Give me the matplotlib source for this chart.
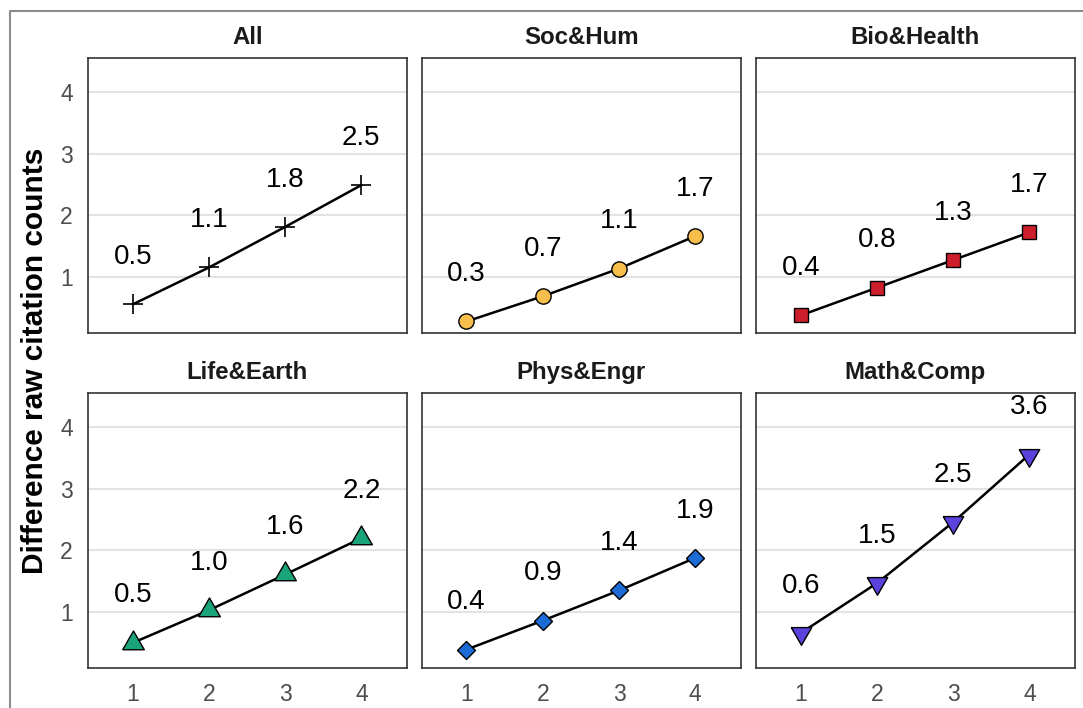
import matplotlib
matplotlib.use("Agg")
import matplotlib.pyplot as plt
from matplotlib.lines import Line2D
import numpy as np

plt.rcParams['font.family'] = ['Liberation Sans', 'DejaVu Sans']

# ---------------- data ----------------
groups = [1, 2, 3, 4]
panel_titles = ["All", "Soc&Hum", "Bio&Health", "Life&Earth", "Phys&Engr", "Math&Comp"]
all_vals = [0.55, 1.15, 1.81, 2.49]
soc_vals = [0.27, 0.68, 1.13, 1.66]
bio_vals = [0.37, 0.82, 1.27, 1.72]
life_vals = [0.50, 1.03, 1.61, 2.20]
phys_vals = [0.39, 0.86, 1.35, 1.88]
math_vals = [0.66, 1.47, 2.46, 3.56]
all_labels = ["0.5", "1.1", "1.8", "2.5"]
soc_labels = ["0.3", "0.7", "1.1", "1.7"]
bio_labels = ["0.4", "0.8", "1.3", "1.7"]
life_labels = ["0.5", "1.0", "1.6", "2.2"]
phys_labels = ["0.4", "0.9", "1.4", "1.9"]
math_labels = ["0.6", "1.5", "2.5", "3.6"]
y_ticks = [1, 2, 3, 4]
x_ticks = [1, 2, 3, 4]

series_vals = [all_vals, soc_vals, bio_vals, life_vals, phys_vals, math_vals]
series_labels = [all_labels, soc_labels, bio_labels, life_labels, phys_labels, math_labels]

# ---------------- styles ----------------
tri_up = [(-1, -0.57735), (1, -0.57735), (0, 1.1547), (-1, -0.57735)]
tri_dn = [(-1, 0.57735), (1, 0.57735), (0, -1.1547), (-1, 0.57735)]
styles = [
    dict(marker='+', ms=14.5, mfc='black', mec='black', mew=1.2),
    dict(marker='o', ms=11, mfc='#F8BE4C', mec='black', mew=1.0),
    dict(marker='s', ms=9.5, mfc='#CC1F2B', mec='black', mew=1.0),
    dict(marker=tri_up, ms=18, mfc='#1BA37A', mec='black', mew=1.0),
    dict(marker='D', ms=9.0, mfc='#1C6BD6', mec='black', mew=1.0),
    dict(marker=tri_dn, ms=17, mfc='#5B42DD', mec='black', mew=1.0),
]

W, H = 1083, 708
fig = plt.figure(figsize=(W / 100, H / 100), dpi=100)

col_x = [(88, 407), (421.5, 741), (756, 1075)]
row_y = [(58, 332.5), (393, 668)]

label_offset = 0.77
for i in range(6):
    r, c = divmod(i, 3)
    x0, x1 = col_x[c]
    yt, yb = row_y[r]
    ax = fig.add_axes([x0 / W, 1 - yb / H, (x1 - x0) / W, (yb - yt) / H])
    ax.set_xlim(0.41, 4.6)
    ax.set_ylim(0.09, 4.56)
    ax.set_yticks(y_ticks)
    ax.set_xticks(x_ticks)
    ax.grid(axis='y', color='#e3e3e3', lw=1.5, zorder=0)
    ax.set_axisbelow(True)
    for s in ax.spines.values():
        s.set_color('#333333')
        s.set_linewidth(1.2)
    ax.tick_params(length=0, labelsize=16.5, labelcolor='#4d4d4d', pad=11)
    if c != 0:
        ax.tick_params(labelleft=False)
    if r == 0:
        ax.tick_params(labelbottom=False)
    vals = series_vals[i]
    ax.plot(groups, vals, color='black', lw=1.8, zorder=2)
    ax.plot(groups, vals, ls='none', zorder=3, **styles[i])
    for x, v, lab in zip(groups, vals, series_labels[i]):
        ax.text(x, v + label_offset, lab, ha='center', va='center',
                fontsize=20, color='black')
    ax.set_title(panel_titles[i], fontsize=17.3, fontweight='bold',
                 color='#1a1a1a', pad=10)

fig.text(35 / W, 1 - 361 / H, "Difference raw citation counts", rotation=90,
         ha='center', va='center', fontsize=21.5, fontweight='bold')

# outer border (top and left visible)
bx, by = 10 / W, 1 - 11 / H
fig.add_artist(Line2D([bx, bx, 1.0], [0.0, by, by], transform=fig.transFigure,
                      color='#8c8c8c', lw=1.5))

fig.savefig("out.png", dpi=100)
